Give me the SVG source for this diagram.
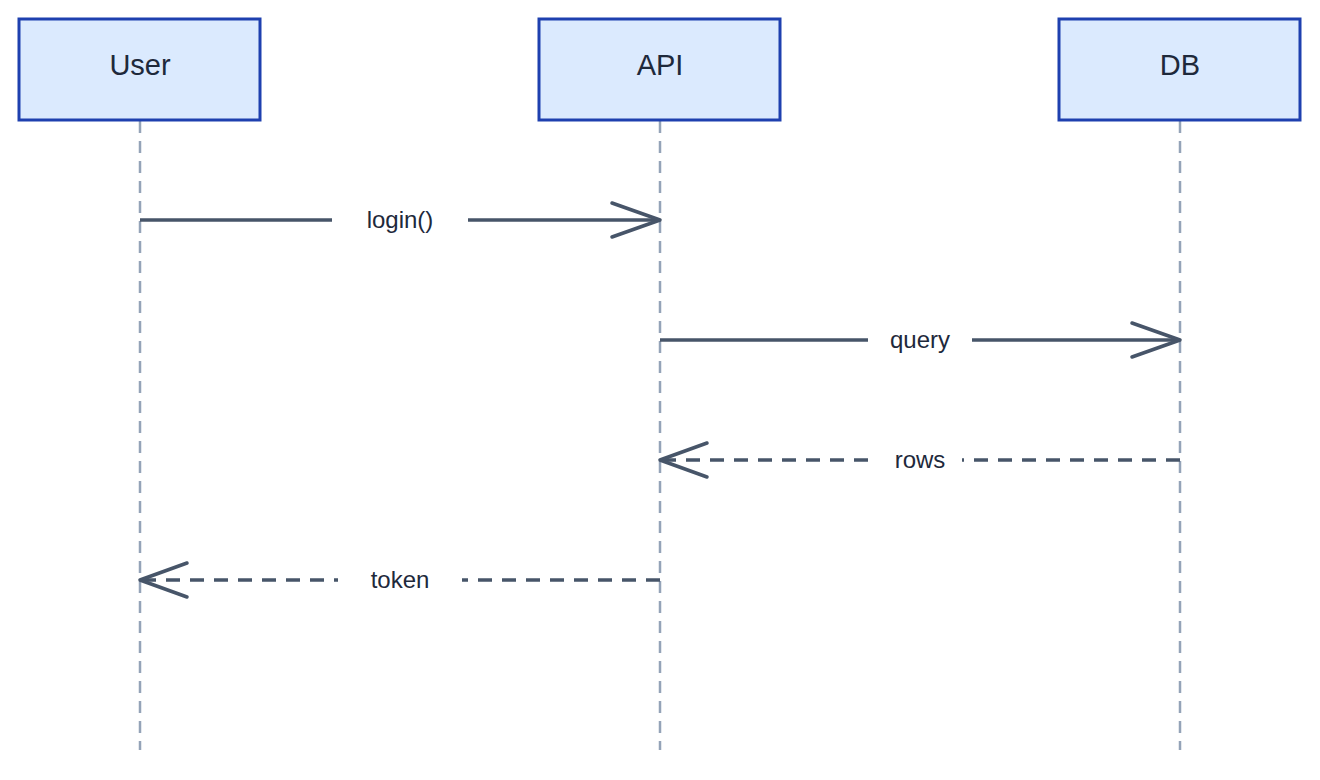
<svg xmlns="http://www.w3.org/2000/svg" width="1320" height="780" viewBox="0 0 1320 780">
<style>
.box{fill:#dbeafe;stroke:#1e40af;stroke-width:3}
.name{font-family:"Liberation Sans",Arial,sans-serif;font-size:29px;fill:#1e293b;text-anchor:middle}
.life{stroke:#94a3b8;stroke-width:2.5;stroke-dasharray:12 8}
.msg{stroke:#475569;stroke-width:3.5;fill:none}
.dash{stroke-dasharray:14 10}
.head{stroke:#475569;stroke-width:3.5;fill:none;stroke-linecap:round;stroke-linejoin:round}
.bg{fill:#fff}
.lbl{font-family:"Liberation Sans",Arial,sans-serif;font-size:24px;fill:#1e293b;text-anchor:middle}
</style>
<rect width="1320" height="780" fill="#fff"/>
<g id="lifelines">
<line class="life" x1="140" y1="121" x2="140" y2="750"/>
<line class="life" x1="660" y1="121" x2="660" y2="750"/>
<line class="life" x1="1180" y1="121" x2="1180" y2="750"/>
</g>
<g id="user"><rect class="box" x="19" y="19" width="241" height="101"/><text class="name" x="140" y="75">User</text></g>
<g id="api"><rect class="box" x="539" y="19" width="241" height="101"/><text class="name" x="660" y="75">API</text></g>
<g id="db"><rect class="box" x="1059" y="19" width="241" height="101"/><text class="name" x="1180" y="75">DB</text></g>
<g id="connectors">
<line class="msg" x1="140" y1="220" x2="658" y2="220"/>
<polyline class="head" points="612,203 660,220 612,237"/>
<rect class="bg" x="332" y="205" width="136" height="30"/>
<text class="lbl" x="400" y="228">login()</text>
<line class="msg" x1="660" y1="340" x2="1178" y2="340"/>
<polyline class="head" points="1132,323 1180,340 1132,357"/>
<rect class="bg" x="868" y="325" width="104" height="30"/>
<text class="lbl" x="920" y="348">query</text>
<line class="msg dash" x1="1180" y1="460" x2="662" y2="460"/>
<polyline class="head" points="707,443 660,460 707,477"/>
<rect class="bg" x="878" y="445" width="84" height="30"/>
<text class="lbl" x="920" y="468">rows</text>
<line class="msg dash" x1="660" y1="580" x2="142" y2="580"/>
<polyline class="head" points="187,563 140,580 187,597"/>
<rect class="bg" x="338" y="565" width="124" height="30"/>
<text class="lbl" x="400" y="588">token</text>
</g>
</svg>
